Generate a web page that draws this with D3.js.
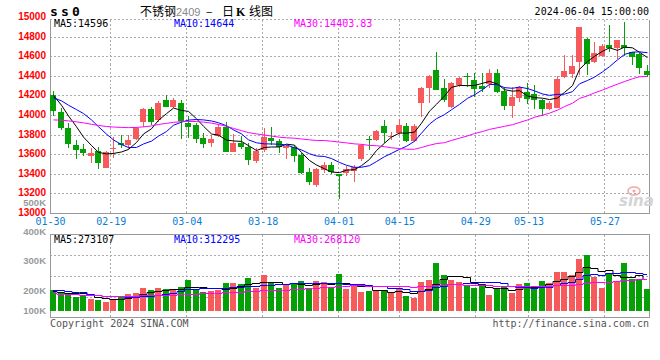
<!DOCTYPE html>
<html>
<head>
<meta charset="utf-8">
<script src="https://cdn.jsdelivr.net/npm/d3@7"></script>
<style>
body { margin: 0; background: #fff; }
svg { display: block; background: #fff; }
text { font-family: "DejaVu Sans Mono", monospace; font-size: 10px; }
.grid { stroke: #aaa; stroke-dasharray: 2,2; shape-rendering: crispEdges; }
.frame { stroke: #999; fill: none; shape-rendering: crispEdges; }
</style>
</head>
<body>
<svg width="660" height="360"></svg>
<script>
// trading days shown on the chart
var dates = ["01-30","01-31","02-01","02-02","02-05","02-06","02-07","02-08","02-19","02-20",
  "02-21","02-22","02-23","02-26","02-27","02-28","02-29","03-01","03-04","03-05",
  "03-06","03-07","03-08","03-11","03-12","03-13","03-14","03-15","03-18","03-19",
  "03-20","03-21","03-22","03-25","03-26","03-27","03-28","03-29","04-01","04-02",
  "04-03","04-08","04-09","04-10","04-11","04-12","04-15","04-16","04-17","04-18",
  "04-19","04-22","04-23","04-24","04-25","04-26","04-29","04-30","05-06","05-07",
  "05-08","05-09","05-10","05-13","05-14","05-15","05-16","05-17","05-20","05-21",
  "05-22","05-23","05-24","05-27","05-28","05-29","05-30","05-31","06-03","06-04"];

var opens = [14210,14040,13870,13698,13657,13586,13640,13466,13665,13722,
  13698,13757,13936,14067,13954,14159,14090,14131,13928,13903,
  13767,13716,13794,13886,13630,13722,13681,13535,13647,13773,
  13742,13665,13681,13596,13425,13289,13443,13494,13399,13415,
  13430,13555,13755,13750,13892,13780,13818,13892,13742,14131,
  14278,14466,14278,14084,14312,14400,14363,14302,14322,14438,
  14251,14100,14182,14237,14217,14159,14067,14080,14397,14422,
  14544,14783,14544,14612,14721,14694,14721,14647,14629,14455];

var highs = [14250,14075,13920,13750,13705,13665,13681,13640,13780,13800,
  13800,13880,14080,14084,14152,14210,14175,14159,13990,13927,
  13818,13800,13913,13931,13808,13794,13716,13665,13869,13886,
  13760,13700,13698,13613,13460,13466,13528,13528,13402,13487,
  13490,13710,13790,13851,13954,13835,13961,13920,13913,14289,
  14414,14653,14370,14346,14397,14432,14432,14438,14473,14473,
  14295,14295,14305,14330,14312,14169,14148,14407,14620,14620,
  14908,14790,14749,14728,14926,14772,14959,14653,14636,14517];

var lows = [13990,13850,13665,13555,13585,13517,13450,13460,13570,13665,
  13660,13750,13880,13905,13937,14084,14080,13757,13770,13722,
  13665,13681,13777,13625,13625,13658,13494,13511,13630,13698,
  13613,13555,13528,13402,13290,13272,13409,13402,13143,13381,
  13323,13530,13650,13740,13716,13750,13800,13732,13732,13982,
  14131,14261,14141,14074,14295,14295,14193,14244,14278,14227,
  14055,13977,14135,14115,14067,13999,14057,14074,14387,14387,
  14414,14414,14534,14602,14647,14575,14612,14517,14422,14397];

var closes = [14050,13870,13710,13647,13620,13620,13517,13630,13672,13698,
  13750,13870,14067,13937,14131,14090,14155,13947,13886,13757,
  13706,13760,13886,13630,13716,13681,13545,13640,13783,13742,
  13681,13690,13589,13415,13323,13453,13494,13425,13385,13450,
  13475,13700,13745,13842,13824,13788,13903,13742,13892,14278,
  14404,14261,14159,14336,14381,14390,14268,14268,14438,14244,
  14100,14193,14295,14169,14159,14067,14125,14373,14455,14506,
  14902,14524,14636,14711,14687,14772,14687,14602,14483,14414];

var ma5 = [14205,14105,13995,13885,13779,13693,13623,13607,13612,13627,
  13653,13724,13811,13864,13951,14019,14076,14052,14042,13967,
  13890,13811,13799,13748,13740,13735,13692,13642,13673,13678,
  13678,13707,13697,13623,13540,13494,13455,13422,13416,13441,
  13446,13487,13551,13642,13717,13780,13820,13820,13830,13921,
  14044,14115,14199,14288,14308,14305,14307,14329,14349,14322,
  14264,14249,14254,14200,14183,14177,14163,14179,14236,14305,
  14472,14552,14605,14656,14692,14666,14699,14692,14646,14592];

var ma10 = [14180,14150,14105,14060,14020,13955,13885,13810,13750,13703,
  13673,13673,13709,13738,13789,13836,13900,13932,13953,13959,
  13955,13944,13926,13895,13853,13812,13751,13721,13710,13709,
  13706,13699,13670,13648,13609,13586,13581,13560,13520,13491,
  13470,13471,13487,13529,13579,13613,13654,13685,13736,13819,
  13912,13968,14009,14059,14114,14175,14211,14264,14318,14315,
  14285,14278,14291,14275,14252,14220,14206,14216,14218,14244,
  14324,14358,14392,14446,14499,14569,14625,14648,14651,14642];

var ma30 = [13955,13952,13945,13935,13925,13910,13898,13888,13882,13878,
  13876,13878,13884,13893,13908,13920,13930,13937,13940,13938,
  13932,13922,13908,13890,13868,13845,13825,13812,13800,13790,
  13778,13772,13768,13760,13751,13745,13744,13737,13728,13720,
  13710,13705,13694,13691,13681,13670,13662,13655,13655,13673,
  13696,13713,13722,13745,13768,13791,13815,13836,13858,13875,
  13889,13906,13929,13954,13982,14003,14024,14055,14091,14126,
  14174,14201,14231,14260,14289,14321,14347,14376,14396,14400];

// volume, thousands of lots
var volumes = [181,163,149,121,137,101,93,76,101,126,
  142,152,194,177,194,186,186,202,261,186,
  164,169,173,236,236,228,278,196,304,236,
  194,219,236,253,194,253,247,194,312,183,
  211,160,169,169,169,154,196,126,112,247,
  261,407,304,261,247,211,196,211,135,196,
  211,152,228,239,196,253,239,331,331,304,
  438,472,284,196,323,247,402,270,261,186];

var volMa5 = [165,158,155,152,150.2,134.2,120.2,105.6,101.6,99.4,
  107.6,119.4,143,158.2,171.8,180.6,187.4,189,205.8,204.2,
  199.8,196.4,190.6,185.6,195.6,208.4,230.2,234.8,248.4,248.4,
  241.6,229.8,237.8,227.6,219.2,231,236.6,228.2,240,237.8,
  229.4,212,207,178.4,175.6,164.2,171.4,162.8,151.4,167,
  188.4,230.6,266.2,296,296,286,243.8,225.2,200,189.8,
  189.8,181,184.4,205.2,205.2,213.6,231,251.6,270,291.6,
  328.6,375.2,365.8,338.8,342.6,304.4,290.4,287.6,300.6,273.2];

var volMa10 = [180,176,170,164,156,145,136,128,123,124.8,
  120.9,119.8,124.3,129.9,135.6,144.1,153.4,166,182,188,
  190.2,191.9,189.8,195.7,199.9,204.1,213.3,212.7,217,222,
  225,230,236.3,238,233.8,236.3,233.2,233,233.8,228.5,
  230.2,224.3,217.6,209.2,206.7,196.8,191.7,184.9,164.9,171.3,
  176.3,201,214.5,223.7,231.5,237.2,237.2,245.7,248,242.9,
  237.9,212.4,204.8,202.6,197.5,201.7,206,218,237.6,248.4,
  271.1,303.1,308.7,304.4,317.1,316.5,332.8,326.7,319.7,312.3];

var volMa30 = [149,146,143,140,137,134,132,130,129,129,
  129,130,131,133,135,137,139,141,144,146,
  148,150,153,156,159,163,167,171,175,178.3,
  178.7,180.6,183.5,187.9,189.8,194.8,200,203.9,210.9,212.8,
  215.1,215.4,214.6,214.3,213.5,212.4,212.7,210.2,205.2,207.3,
  210.5,218.4,222.8,223.6,224,223.4,220.7,221.2,215.6,214.2,
  214.8,212.6,212.3,211.8,211.9,211.9,211.6,216.2,216.8,220.9,
  228.4,238.8,242.7,243.6,248.7,251.8,258.7,263.5,268.4,268.1];

var priceTicks = [13000,13200,13400,13600,13800,14000,14200,14400,14600,14800,15000];
var volTicks = [100,200,300,400,500];
var dateTicks = ["01-30","02-19","03-04","03-18","04-01","04-15","04-29","05-13","05-27"];
var priceLegend = ["MA5:14596","MA10:14644","MA30:14403.83"];
var volLegend = ["MA5:273107","MA10:312295","MA30:268120"];

var maColors = ["#000000","#0000ff","#ff00ff"],
    upColor = "#f75a5a",
    downColor = "#05a005";

var svg = d3.select("svg");

var left = 50, right = 649.5,
    priceTop = 19.5, priceBottom = 213.5,
    volTop = 234.5, volBottom = 317.5;

var x = d3.scaleBand().domain(dates).range([50, 650]).paddingInner(0.2),
    xTick = d3.scalePoint().domain(dates).range([50, 650]),
    y = d3.scaleLinear().domain([13000, 15000]).range([213.3, 17.7]),
    yVol = d3.scaleLinear().domain([0, 500]).range([311, 251.7]),
    yVolAxis = d3.scaleLinear().domain([100, 200, 500]).range([310, 290, 202]);

var bw = Math.round(x.bandwidth());
function bx(d) { return Math.round(x(d)); }

// grid lines
var grid = svg.append("g");
grid.selectAll(".hgrid")
    .data(priceTicks.filter(function(d) { return d > 13000 && d < 15000; }))
  .enter().append("line")
    .attr("class", "grid")
    .attr("x1", left).attr("x2", right)
    .attr("y1", function(d) { return Math.floor(y(d)) + 0.5; })
    .attr("y2", function(d) { return Math.floor(y(d)) + 0.5; });

grid.selectAll(".vgrid")
    .data(dateTicks.slice(1))
  .enter().append("line")
    .attr("class", "grid")
    .attr("x1", function(d) { return Math.floor(xTick(d)) + 0.5; })
    .attr("x2", function(d) { return Math.floor(xTick(d)) + 0.5; })
    .attr("y1", priceTop).attr("y2", priceBottom);

grid.selectAll(".vgrid2")
    .data(dateTicks.slice(1))
  .enter().append("line")
    .attr("class", "grid")
    .attr("x1", function(d) { return Math.floor(xTick(d)) + 0.5; })
    .attr("x2", function(d) { return Math.floor(xTick(d)) + 0.5; })
    .attr("y1", volTop).attr("y2", volBottom);

// volume panel split in quarters
grid.selectAll(".vol-h")
    .data([1, 2, 3])
  .enter().append("line")
    .attr("class", "grid")
    .attr("x1", left).attr("x2", right)
    .attr("y1", function(d) { return Math.round(volTop + (volBottom - volTop) * d / 4) + 0.5; })
    .attr("y2", function(d) { return Math.round(volTop + (volBottom - volTop) * d / 4) + 0.5; });

// top edge of the price panel is dotted like the grid
grid.append("line").attr("class", "grid")
    .attr("x1", left).attr("x2", right).attr("y1", priceTop).attr("y2", priceTop);

// frames
svg.append("path").attr("class", "frame")
    .attr("d", "M" + left + "," + priceTop + "V" + priceBottom + "H" + right + "V" + priceTop);
svg.append("rect").attr("class", "frame")
    .attr("x", left).attr("y", volTop)
    .attr("width", right - left).attr("height", volBottom - volTop);

// watermark
var wm = svg.append("g");
wm.append("ellipse").attr("cx", 634).attr("cy", 191).attr("rx", 6).attr("ry", 4)
    .attr("fill", "none").attr("stroke", "#f2a6a6").attr("stroke-width", 1.5);
wm.append("circle").attr("cx", 634).attr("cy", 191).attr("r", 1.5).attr("fill", "#f2a6a6");
wm.append("text").attr("x", 619).attr("y", 206)
    .style("font", "italic bold 15px 'DejaVu Sans'").attr("fill", "#d4d4d4").text("sina");

// candles
var candle = svg.append("g").attr("class", "candles")
  .selectAll("g")
    .data(dates)
  .enter().append("g")
    .attr("fill", function(d, i) { return closes[i] >= opens[i] ? upColor : downColor; })
    .attr("stroke", function(d, i) { return closes[i] >= opens[i] ? upColor : downColor; })
    .style("shape-rendering", "crispEdges");

candle.append("line")
    .attr("x1", function(d) { return bx(d) + bw / 2 + 0.5; })
    .attr("x2", function(d) { return bx(d) + bw / 2 + 0.5; })
    .attr("y1", function(d, i) { return y(highs[i]); })
    .attr("y2", function(d, i) { return y(lows[i]); });

candle.append("rect")
    .attr("stroke", "none")
    .attr("x", function(d) { return bx(d); })
    .attr("width", bw)
    .attr("y", function(d, i) { return y(Math.max(opens[i], closes[i])); })
    .attr("height", function(d, i) {
      return Math.max(1, y(Math.min(opens[i], closes[i])) - y(Math.max(opens[i], closes[i])));
    });

// price moving averages
[ma5, ma10, ma30].forEach(function(series, k) {
  svg.append("path")
      .datum(series)
      .attr("fill", "none")
      .attr("stroke", maColors[k])
      .attr("stroke-width", 1)
      .attr("d", d3.line()
        .x(function(d, i) { return bx(dates[i]) + bw / 2 + 0.5; })
        .y(function(d) { return y(d); }));
});

// volume bars
svg.append("g").style("shape-rendering", "crispEdges")
  .selectAll("rect")
    .data(dates)
  .enter().append("rect")
    .attr("x", function(d) { return bx(d); })
    .attr("width", bw)
    .attr("y", function(d, i) { return yVol(volumes[i]); })
    .attr("height", function(d, i) { return yVol(0) - yVol(volumes[i]); })
    .attr("fill", function(d, i) { return closes[i] >= opens[i] ? upColor : downColor; });

[volMa5, volMa10, volMa30].forEach(function(series, k) {
  svg.append("path")
      .datum(series)
      .attr("fill", "none")
      .attr("stroke", maColors[k])
      .attr("stroke-width", 1)
      .attr("d", d3.line()
        .curve(d3.curveStep)
        .x(function(d, i) { return bx(dates[i]) + bw / 2; })
        .y(function(d) { return Math.round(yVol(d)) + 0.5; }));
});

// axes
svg.append("g")
    .attr("transform", "translate(" + 50 + ",0)")
    .call(d3.axisLeft(y).tickValues(priceTicks).tickSize(0).tickPadding(4).tickFormat(d3.format("d")))
    .call(function(g) { g.select(".domain").remove(); })
  .selectAll("text")
    .attr("fill", "#ff0000")
    .attr("dy", "0.2em")
    .style("font", "bold 10px 'Liberation Sans'");

svg.append("g")
    .attr("transform", "translate(" + 50 + ",0)")
    .call(d3.axisLeft(yVolAxis).tickValues(volTicks).tickSize(0).tickPadding(4)
      .tickFormat(function(d) { return d + "K"; }))
    .call(function(g) { g.select(".domain").remove(); })
  .selectAll("text")
    .attr("fill", "#999")
    .attr("dy", "0.32em")
    .style("font", "bold 9.5px 'Liberation Sans'");

svg.append("g")
    .attr("transform", "translate(0,218)")
    .call(d3.axisBottom(xTick).tickValues(dateTicks).tickSize(0).tickPadding(0))
    .call(function(g) { g.select(".domain").remove(); })
  .selectAll("text")
    .attr("fill", "#0a7ed4")
    .style("font", "10px 'DejaVu Sans Mono'");

// legends
svg.append("g").selectAll("text")
    .data(priceLegend)
  .enter().append("text")
    .attr("x", function(d, i) { return 54 + i * 120; })
    .attr("y", 27)
    .attr("fill", function(d, i) { return maColors[i]; })
    .text(function(d) { return d; });

svg.append("g").selectAll("text")
    .data(volLegend)
  .enter().append("text")
    .attr("x", function(d, i) { return 54 + i * 120; })
    .attr("y", 243)
    .attr("fill", function(d, i) { return maColors[i]; })
    .text(function(d) { return d; });

// header
svg.append("text").attr("x", 50).attr("y", 16)
    .style("font", "bold 13px 'DejaVu Sans Mono'").style("letter-spacing", "3.2px")
    .text("ss0");

var title = svg.append("text").attr("y", 16).style("font", "12px 'Noto Sans CJK SC'");
title.append("tspan").attr("x", 140).text("不锈钢");
title.append("tspan").attr("x", 176).attr("fill", "#888").style("font", "11px 'Liberation Sans'").text("2409");
title.append("tspan").attr("x", 206).text("–");
title.append("tspan").attr("x", 222).text("日");
title.append("tspan").attr("x", 236).style("font-weight", "bold").style("font-family", "'Liberation Serif'").text("K");
title.append("tspan").attr("x", 249).text("线图");

svg.append("text").attr("x", 649).attr("y", 15).attr("text-anchor", "end")
    .text("2024-06-04 15:00:00");

svg.append("text").attr("x", 50).attr("y", 327).attr("fill", "#555")
    .text("Copyright 2024 SINA.COM");
svg.append("text").attr("x", 649).attr("y", 327).attr("fill", "#555").attr("text-anchor", "end")
    .text("http://finance.sina.com.cn");
</script>
</body>
</html>
